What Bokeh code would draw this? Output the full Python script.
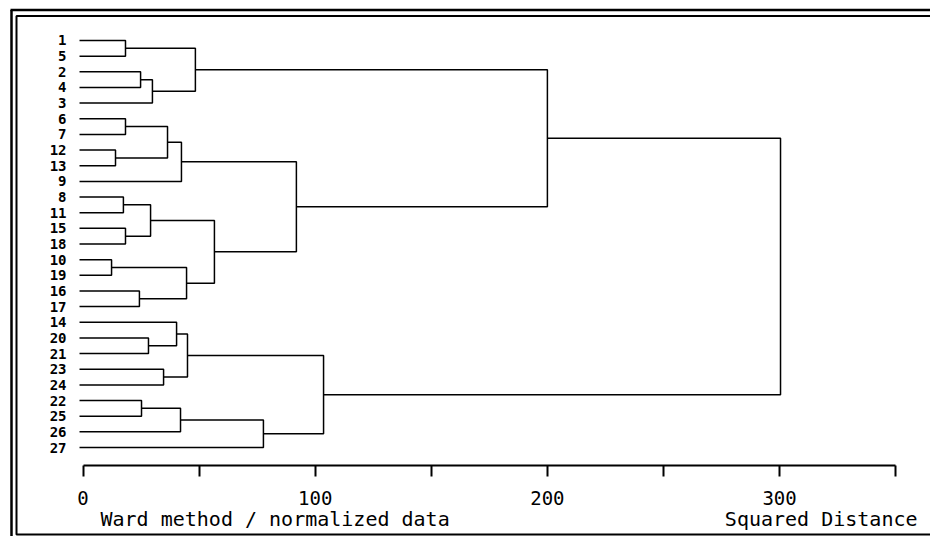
from bokeh.plotting import figure
from bokeh.models import Range1d, LinearAxis, FixedTicker, ColumnDataSource, Label, Grid
from bokeh.core.properties import value
from bokeh.embed import file_html
from bokeh.resources import INLINE

# ---- data -------------------------------------------------------------
leaves = ["1", "5", "2", "4", "3", "6", "7", "12", "13", "9", "8", "11", "15", "18",
          "10", "19", "16", "17", "14", "20", "21", "23", "24", "22", "25", "26", "27"]

# merges: (left child, right child, squared distance); str = leaf, int = earlier merge
merge_left = ["1", "2", 1, 0, "6", "12", 4, 6, "8", "15", 8, "10", "16", 11, 10, 7, 3,
              "20", "14", "23", 18, "22", 21, 22, 20, 16]
merge_right = ["5", "4", "3", 2, "7", "13", 5, "9", "11", "18", 9, "19", "17", 12, 13, 14, 15,
               "21", 17, "24", 19, "25", "26", "27", 23, 24]
merge_height = [18.3, 24.8, 29.9, 48.4, 18.3, 14.0, 36.4, 42.4, 17.4, 18.3, 29.1, 12.3, 24.3,
                44.6, 56.6, 91.9, 200.0, 28.2, 40.3, 34.7, 45.0, 25.2, 42.0, 77.7, 103.6, 300.4]

tick_values = [0, 50, 100, 150, 200, 250, 300, 350]
tick_labels = ["0", "", "100", "", "200", "", "300", ""]

left_caption = "Ward method / normalized data"
right_caption = "Squared Distance"

# ---- layout constants -------------------------------------------------
W, H = 930, 536
XMIN, XMAX = -35.53, 364.99
YTOP, YBOT = -2.555, 31.685
LEAF_X = -1.5
FONT = "DejaVu Sans Mono"

SX = W / (XMAX - XMIN)
SY = H / (YBOT - YTOP)


def dx(px):
    return XMIN + px / SX


def dy(py):
    return YTOP + py / SY


# ---- dendrogram geometry ----------------------------------------------
leaf_pos = {name: (LEAF_X, i) for i, name in enumerate(leaves)}
node_pos = []
xs, ys = [], []
for a, b, h in zip(merge_left, merge_right, merge_height):
    pa = leaf_pos[a] if isinstance(a, str) else node_pos[a]
    pb = leaf_pos[b] if isinstance(b, str) else node_pos[b]
    xs.append([pa[0], h, h, pb[0]])
    ys.append([pa[1], pa[1], pb[1], pb[1]])
    node_pos.append((h, (pa[1] + pb[1]) / 2.0))

p = figure(width=W, height=H, x_range=Range1d(XMIN, XMAX), y_range=Range1d(YBOT, YTOP),
           x_axis_location=None, y_axis_location=None, min_border=0,
           toolbar_location=None, output_backend="svg", outline_line_color=None,
           background_fill_color="white", border_fill_color="white")
p.center = [r for r in p.center if not isinstance(r, Grid)]

p.multi_line(xs=xs, ys=ys, line_color="black", line_width=1.5)

leaf_src = ColumnDataSource(dict(x=[dx(66)] * len(leaves), y=list(range(len(leaves))), name=leaves))
p.text(x="x", y="y", text="name", source=leaf_src, text_align="right", text_baseline="middle",
       text_font=value(FONT), text_font_style="bold", text_font_size="14px", text_color="black")

ax = LinearAxis(fixed_location=dy(465), bounds=(0, 350),
                ticker=FixedTicker(ticks=tick_values),
                major_label_overrides={v: t for v, t in zip(tick_values, tick_labels)})
ax.minor_tick_line_color = None
ax.major_tick_in = 0
ax.major_tick_out = 11
ax.axis_line_width = 2
ax.major_tick_line_width = 2
ax.axis_line_color = "black"
ax.major_tick_line_color = "black"
ax.major_label_text_font = FONT
ax.major_label_text_font_size = "19px"
ax.major_label_text_color = "black"
ax.major_label_standoff = 14
p.add_layout(ax, "below")

p.add_layout(Label(x=dx(100), y=dy(518), text=left_caption, text_font=FONT,
                   text_font_size="20px", text_color="black", text_baseline="middle"))
p.add_layout(Label(x=dx(917), y=dy(518), text=right_caption, text_font=FONT,
                   text_font_size="20px", text_color="black", text_align="right",
                   text_baseline="middle"))

# double frame
p.multi_line(xs=[[dx(11), dx(11)], [dx(10), dx(960)]],
             ys=[[dy(9.5), dy(560)], [dy(9.5), dy(9.5)]], line_color="black", line_width=2.5)
p.multi_line(xs=[[dx(960), dx(16), dx(16), dx(960)]],
             ys=[[dy(15.5), dy(15.5), dy(534), dy(534)]], line_color="black", line_width=2)

open("out.html", "w").write(file_html(p, INLINE))
